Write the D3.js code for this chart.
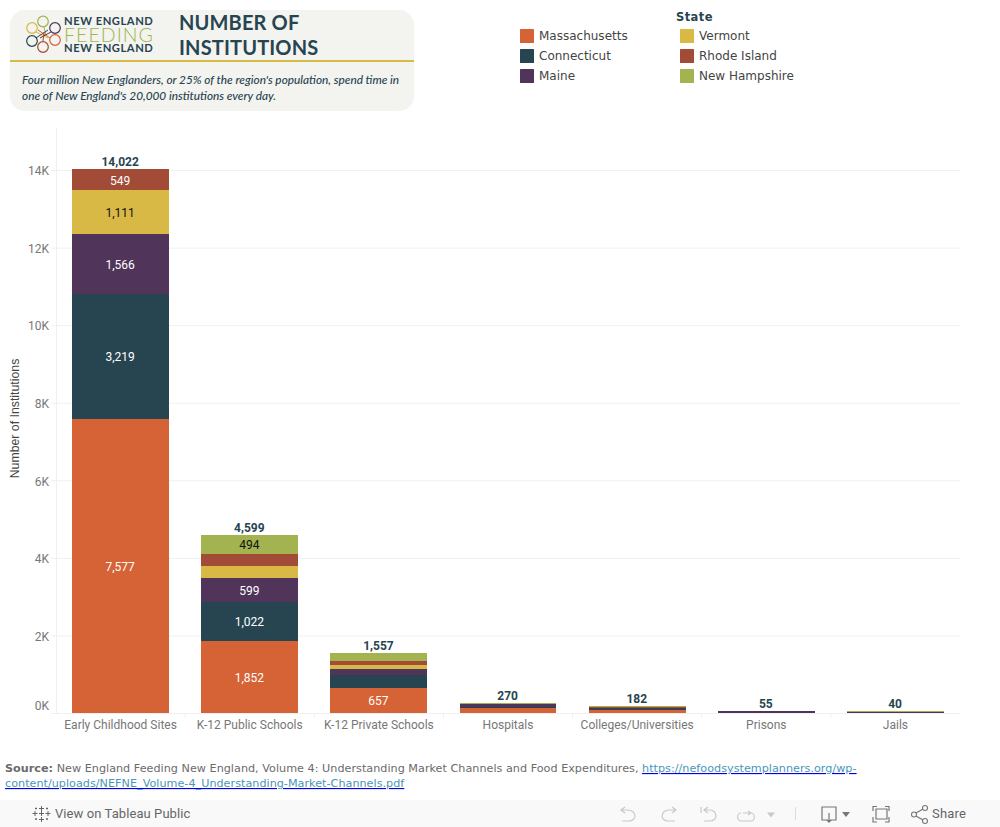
<!DOCTYPE html>
<html>
<head>
<meta charset="utf-8">
<script src="https://cdn.jsdelivr.net/npm/d3@7"></script>
<style>
html,body{margin:0;padding:0;background:#fff;overflow:hidden}
svg{display:block}
</style>
</head>
<body>
<svg id="c" width="1000" height="827"></svg>
<script>
const categories = ["Early Childhood Sites","K-12 Public Schools","K-12 Private Schools","Hospitals","Colleges/Universities","Prisons","Jails"];
const states = ["Massachusetts","Connecticut","Maine","Vermont","Rhode Island","New Hampshire"];
const colors = ["#d66335","#274451","#50345a","#d8b945","#a24b36","#a2b350"];
const massachusetts = [7577,1852,657,130,85,3,2];
const connecticut   = [3219,1022,335,30,25,3,2];
const maine         = [1566,599,155,60,20,34,26];
const vermont       = [1111,310,103,10,5,3,1];
const rhodeIsland   = [549,322,103,10,29,3,1];
const newHampshire  = [0,494,204,30,18,9,8];
const totals = [14022,4599,1557,270,182,55,40];
const seriesValues = [massachusetts,connecticut,maine,vermont,rhodeIsland,newHampshire];
// which segments carry a printed value, per state
const labelledMassachusetts = [0,1,2];
const labelledConnecticut = [0,1];
const labelledMaine = [0,1];
const labelledVermont = [0];
const labelledRhodeIsland = [0];
const labelledNewHampshire = [1];
const labelled = [labelledMassachusetts,labelledConnecticut,labelledMaine,labelledVermont,labelledRhodeIsland,labelledNewHampshire];
const yTicks = [0,2000,4000,6000,8000,10000,12000,14000];
const headerTitle = ["NUMBER OF","INSTITUTIONS"];
const headerText = ["Four million New Englanders, or 25% of the region's population, spend time in","one of New England's 20,000 institutions every day."];

const svg = d3.select("#c");
const fmt = d3.format(",");
const roboto = "Roboto, sans-serif", dejavu = "'DejaVu Sans', sans-serif", lato = "Lato, sans-serif";

// ---- header
const h = svg.append("g");
h.append("rect").attr("x",10).attr("y",10).attr("width",404).attr("height",101).attr("rx",15).attr("fill","#f3f3ef");
h.append("rect").attr("x",10).attr("y",60).attr("width",404).attr("height",2).attr("fill","#d8b945");
headerTitle.forEach((t,i)=>h.append("text").text(t).attr("x",179).attr("y",30+i*24.5)
  .attr("font-family",lato).attr("font-weight",700).attr("font-size",20).attr("letter-spacing",0.15).attr("fill","#274451"));
headerText.forEach((t,i)=>h.append("text").text(t).attr("x",22).attr("y",83.5+i*16)
  .attr("font-family",lato).attr("font-style","italic").attr("font-weight",500).attr("font-size",11.8).attr("fill","#274451"));
// logo
const logoRings = [[43,21.5,"#a2b350"],[32,28,"#d8b945"],[55,28,"#50345a"],[32,41,"#274451"],[55,40,"#d66335"],[43,47,"#a24b36"]];
const logoSpokes = [[36,32,48,38,"#d8b945"],[44,27,46,36,"#a2b350"],[51,32,40,38,"#50345a"],[36,38,48,30,"#274451"],[50,38,38,30,"#d66335"],[43,41,44,32,"#a24b36"]];
h.selectAll("line.sp").data(logoSpokes).join("line").attr("class","sp")
  .attr("x1",d=>d[0]).attr("y1",d=>d[1]).attr("x2",d=>d[2]).attr("y2",d=>d[3]).attr("stroke",d=>d[4]).attr("stroke-width",1);
h.selectAll("circle.ring").data(logoRings).join("circle").attr("class","ring")
  .attr("cx",d=>d[0]).attr("cy",d=>d[1]).attr("r",5.3).attr("fill","none").attr("stroke",d=>d[2]).attr("stroke-width",1.2);
[["NEW ENGLAND",25,"#274451",700,11.2,0.55],["FEEDING",41.5,"#a2b350",300,19.5,1.05],["NEW ENGLAND",52,"#274451",700,11.2,0.55]].forEach(d=>
  h.append("text").text(d[0]).attr("x",64).attr("y",d[1]).attr("font-family",lato).attr("font-weight",d[3]).attr("font-size",d[4]).attr("letter-spacing",d[5]).attr("fill",d[2]));

// ---- legend
const lg = svg.append("g").attr("font-family",dejavu);
lg.append("text").text("State").attr("x",676).attr("y",21).attr("font-size",11.5).attr("font-weight",700).attr("letter-spacing",0.4).attr("fill","#274451");
states.forEach((s,i)=>{
  const col = Math.floor(i/3), row = i%3;
  const x = 520+col*160, y = 29+row*20;
  lg.append("rect").attr("x",x).attr("y",y).attr("width",14).attr("height",14).attr("rx",0.5).attr("fill",colors[i]);
  lg.append("text").text(s).attr("x",x+19).attr("y",y+11).attr("font-size",12).attr("fill","#444");
});

// ---- scales
const x = d3.scaleBand().domain(categories).range([56,960]).paddingInner(0.25).paddingOuter(0.125);
const y = d3.scaleLinear().domain([0,14000]).range([713,170]);

const rows = categories.map((c,i)=>{
  const r = {category:c};
  states.forEach((s,j)=>r[s]=seriesValues[j][i]);
  return r;
});
const stacked = d3.stack().keys(states)(rows);

// ---- grid and axes
const gridG = svg.append("g").attr("transform","translate(56,0)")
  .call(d3.axisLeft(y).tickValues(yTicks).tickSize(-904).tickPadding(7).tickFormat(d=>(d/1000)+"K"));
gridG.select(".domain").remove();
gridG.selectAll("line").attr("stroke","#f0f0f0").attr("x1",-5);
gridG.selectAll("text").attr("font-family",roboto).attr("font-size",12).attr("fill","#777").attr("dy","0.4em");
gridG.selectAll(".tick").filter(d=>d===0).select("text").attr("dy","-0.3em");
svg.append("line").attr("x1",56.5).attr("x2",56.5).attr("y1",128).attr("y2",713.5).attr("stroke","#f0f0f0");

const xG = svg.append("g").attr("transform","translate(0,713.5)")
  .call(d3.axisBottom(x).tickSize(0).tickPadding(7));
xG.select(".domain").remove();
xG.selectAll("text").attr("font-family",roboto).attr("font-size",12).attr("fill","#777");
xG.selectAll("line.sep").data(categories.slice(1)).join("line").attr("class","sep")
  .attr("x1",d=>x(d)-x.step()*0.125).attr("x2",d=>x(d)-x.step()*0.125).attr("y1",0).attr("y2",5).attr("stroke","#f0f0f0");

svg.append("text").text("Number of Institutions").attr("transform","translate(19,418.5) rotate(-90)")
  .attr("text-anchor","middle").attr("font-family","'Liberation Sans', Arial, sans-serif").attr("font-size",12.3).attr("fill","#444");

// ---- bars
svg.append("g").attr("shape-rendering","crispEdges").selectAll("g").data(stacked).join("g").attr("fill",(d,i)=>colors[i])
  .selectAll("rect").data(d=>d).join("rect")
  .attr("x",d=>x(d.data.category)).attr("width",x.bandwidth())
  .attr("y",d=>y(d[1])).attr("height",d=>y(d[0])-y(d[1]));

// ---- segment values
stacked.forEach((layer,j)=>{
  labelled[j].forEach(i=>{
    const d = layer[i];
    svg.append("text").text(fmt(seriesValues[j][i]))
      .attr("x",x(categories[i])+x.bandwidth()/2-0.4).attr("y",y((d[0]+d[1])/2)+4.8)
      .attr("text-anchor","middle").attr("font-family",roboto).attr("font-size",12)
      .attr("fill",(j===3||j===5)?"#111":"#fff");
  });
});

// ---- totals
svg.append("g").selectAll("text").data(totals).join("text").text(d=>fmt(d))
  .attr("x",(d,i)=>x(categories[i])+x.bandwidth()/2-0.4).attr("y",d=>y(d)-3)
  .attr("text-anchor","middle").attr("font-family",roboto).attr("font-weight",700).attr("font-size",12).attr("fill","#274451");

// ---- source
const teal = "#4a96b8", linkLine = "#0000ee";
const src = svg.append("g").attr("font-family",dejavu).attr("font-size",11.2).attr("letter-spacing",0.02);
const s1 = src.append("text").attr("x",5).attr("y",772).attr("fill","#6b6b6b");
s1.append("tspan").text("Source:").attr("font-weight",700);
s1.append("tspan").text(" New England Feeding New England, Volume 4: Understanding Market Channels and Food Expenditures, ");
s1.append("tspan").attr("fill",linkLine).attr("text-decoration","underline")
  .append("tspan").text("https://nefoodsystemplanners.org/wp-").attr("fill",teal);
src.append("text").attr("x",5).attr("y",787).attr("fill",linkLine).attr("text-decoration","underline")
  .append("tspan").text("content/uploads/NEFNE_Volume-4_Understanding-Market-Channels.pdf").attr("fill",teal);

// ---- toolbar
const tb = svg.append("g");
tb.append("rect").attr("x",0).attr("y",800).attr("width",1000).attr("height",27).attr("fill","#f9f9f9");
const tabT = {fam:"Roboto, sans-serif",col:"#666"};
tb.append("text").text("View on Tableau Public").attr("x",55).attr("y",818).attr("font-family",tabT.fam).attr("font-size",13).attr("letter-spacing",0.08).attr("fill",tabT.col);
tb.append("path").attr("d","M41.5 806v5M39 808.5h5M41.5 817v5M39 819.5h5M35 811v5M32.5 813.5h5M48 811v5M45.5 813.5h5M41.5 811v5M39 813.5h5M36 807.5v2M35 808.5h2M47 807.5v2M46 808.5h2M36 818v2M35 819h2M47 818v2M46 819h2")
  .attr("fill","none").attr("stroke","#666").attr("stroke-width",1);
const pale = "#c9c9c9", dark = "#777";
const icon = (d,c)=>tb.append("path").attr("d",d).attr("fill","none").attr("stroke",c).attr("stroke-width",1.2);
icon("M621 810h7a7 6 0 0 1 7 6a6 5 0 0 1-6 5h-7M625 807l-4 3l4 3",pale);
icon("M676 810h-7a7 6 0 0 0-7 6a6 5 0 0 0 6 5h7M672 807l4 3l-4 3",pale);
icon("M701 807v6M704 810h6a6 6 0 0 1 6 6a6 5 0 0 1-6 5h-6M708 807l-4 3l4 3",pale);
icon("M743 813h8a2.5 3 0 0 1 0 8h-10a2.5 3 0 0 1 0-8M748 811l3 2l-3 2",pale);
tb.append("path").attr("d","M767 812.5h8l-4 5z").attr("fill",pale);
tb.append("line").attr("x1",795.5).attr("x2",795.5).attr("y1",807).attr("y2",820).attr("stroke","#ddd");
icon("M828 820h-6v-13h14v13h-6M829 813v9",dark);
tb.append("path").attr("d","M826 820h6l-3 3z").attr("fill",dark);
tb.append("path").attr("d","M842 812h8l-4 5z").attr("fill",dark);
icon("M873 811v-4.500h4M885 806.500h4v4.500M873 817v5h4M885 822h4v-5M876 809h11v10h-11z",dark);
icon("M916 813l7-4M916 816l7 4",dark);
tb.selectAll("circle.sh").data([[914,814.500],[925,808],[925,821]]).join("circle").attr("class","sh")
  .attr("cx",d=>d[0]).attr("cy",d=>d[1]).attr("r",2.5).attr("fill","#f9f9f9").attr("stroke",dark).attr("stroke-width",1.1);
tb.append("text").text("Share").attr("x",932).attr("y",818).attr("font-family",tabT.fam).attr("font-size",13).attr("letter-spacing",0.2).attr("fill",tabT.col);
</script>
</body>
</html>
